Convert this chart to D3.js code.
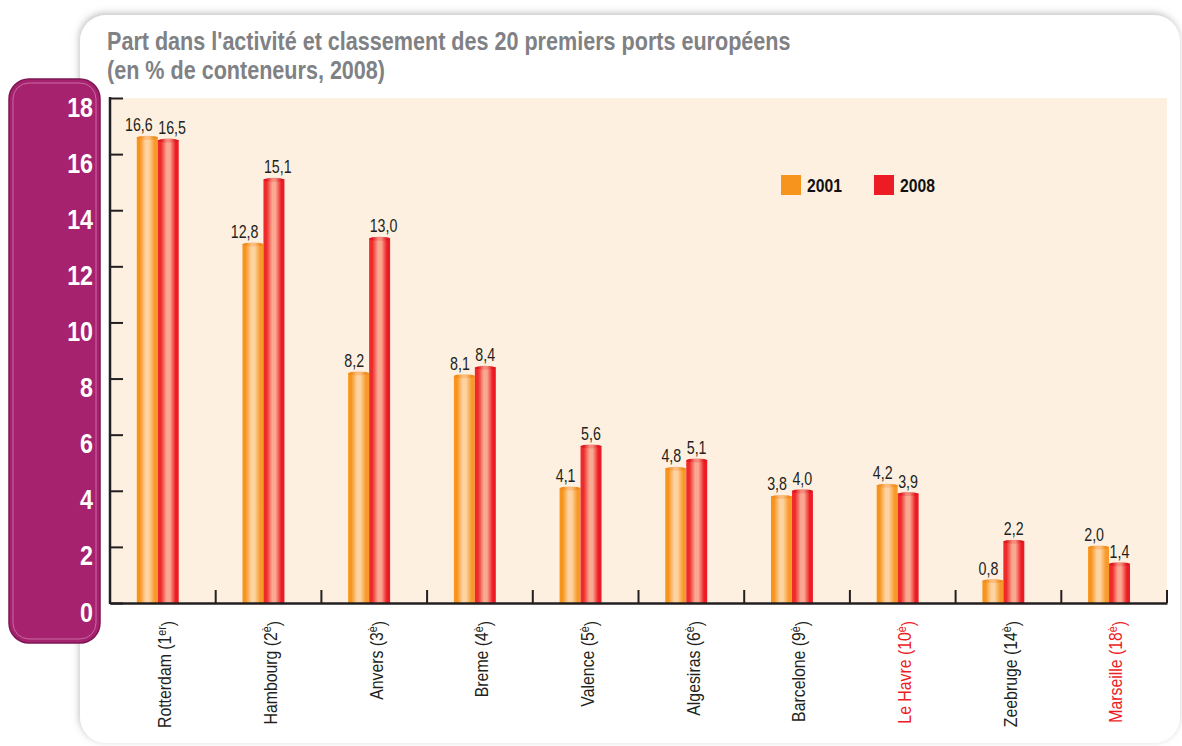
<!DOCTYPE html>
<html>
<head>
<meta charset="utf-8">
<script src="https://cdn.jsdelivr.net/npm/d3@7"></script>
<style>
  html, body { margin: 0; padding: 0; background: #ffffff; }
  svg { display: block; }
</style>
</head>
<body>
<svg id="chart" width="1182" height="746"></svg>
<script>
// ---------- data ----------
const categories = ["Rotterdam", "Hambourg", "Anvers", "Breme", "Valence", "Algesiras", "Barcelone", "Le Havre", "Zeebruge", "Marseille"];
const ranks = ["1", "2", "3", "4", "5", "6", "9", "10", "14", "18"];
const rankSuffix = ["er", "è", "è", "è", "è", "è", "è", "è", "è", "è"];
const highlighted = ["Le Havre", "Marseille"];
const values2001 = [16.6, 12.8, 8.2, 8.1, 4.1, 4.8, 3.8, 4.2, 0.8, 2.0];
const values2008 = [16.5, 15.1, 13.0, 8.4, 5.6, 5.1, 4.0, 3.9, 2.2, 1.4];
const seriesNames = ["2001", "2008"];
const yTicks = [0, 2, 4, 6, 8, 10, 12, 14, 16, 18];
const titleLines = ["Part dans l'activité et classement des 20 premiers ports européens", "(en % de conteneurs, 2008)"];

// ---------- layout ----------
const svg = d3.select("#chart");
const font = "'Liberation Sans', Arial, sans-serif";
const plot = { left: 110, right: 1167, top: 98, bottom: 603 };
const colors = { "2001": "#F7941D", "2008": "#ED1C24" };
const dark = "#231F20";

const defs = svg.append("defs");
const shadow = defs.append("filter").attr("id", "cardShadow").attr("x", "-5%").attr("y", "-5%").attr("width", "110%").attr("height", "110%");
shadow.append("feDropShadow").attr("dx", -1).attr("dy", -2).attr("stdDeviation", 3.5).attr("flood-color", "#8c8c8c").attr("flood-opacity", 0.55);

function cyl(id, edgeL, light, edgeR) {
  const g = defs.append("linearGradient").attr("id", id).attr("x1", 0).attr("x2", 1).attr("y1", 0).attr("y2", 0);
  g.append("stop").attr("offset", "0%").attr("stop-color", edgeL);
  g.append("stop").attr("offset", "15%").attr("stop-color", edgeL);
  g.append("stop").attr("offset", "42%").attr("stop-color", light);
  g.append("stop").attr("offset", "58%").attr("stop-color", light);
  g.append("stop").attr("offset", "85%").attr("stop-color", edgeR);
  g.append("stop").attr("offset", "100%").attr("stop-color", edgeR);
}
cyl("grad2001", "#F7941D", "#FDD3A2", "#F79A2A");
cyl("grad2008", "#EE2A2B", "#F9A892", "#ED1C24");
cyl("cap2001", "#F08A18", "#FBBE7E", "#F08A18");
cyl("cap2008", "#E0151D", "#F48A7A", "#E0151D");

// card
svg.append("rect").attr("x", 80).attr("y", 15).attr("width", 1100).attr("height", 728)
  .attr("rx", 26).attr("fill", "#ffffff").attr("filter", "url(#cardShadow)");

// title (condensed by horizontal scaling)
titleLines.forEach((t, i) => {
  svg.append("text").attr("transform", `translate(107,${i === 0 ? 50 : 79}) scale(0.83,1)`)
    .attr("font-family", font).attr("font-weight", "bold").attr("font-size", 26).attr("fill", "#808184")
    .text(t);
});

// plot background
svg.append("rect").attr("x", plot.left).attr("y", plot.top).attr("width", plot.right - plot.left)
  .attr("height", plot.bottom - plot.top).attr("fill", "#FDF0E1");

// purple y panel
svg.append("rect").attr("x", 9).attr("y", 79).attr("width", 91).attr("height", 564).attr("rx", 20)
  .attr("fill", "#A6226F").attr("stroke", "#7E1654").attr("stroke-width", 1.5);
svg.append("rect").attr("x", 13).attr("y", 83).attr("width", 83).attr("height", 556).attr("rx", 16)
  .attr("fill", "none").attr("stroke", "#C868A0").attr("stroke-width", 1);

// scales
const y = d3.scaleLinear().domain([0, 18]).range([plot.bottom, plot.top]);
const x = d3.scaleBand().domain(categories).range([plot.left, plot.right]).paddingInner(0).paddingOuter(0);
const xs = d3.scaleBand().domain(seriesNames).range([0, x.bandwidth()]).paddingInner(0).paddingOuter(1.52).align(0.42);

// y tick lines (inside)
svg.append("g").attr("transform", `translate(${plot.left},0)`)
  .call(d3.axisRight(y).tickValues(yTicks).tickSize(13).tickFormat(""))
  .call(g => g.select(".domain").remove())
  .call(g => g.selectAll("line").attr("stroke", dark).attr("stroke-width", 2));

// y tick labels (in purple panel)
svg.append("g").attr("transform", `translate(93,0)`)
  .call(d3.axisLeft(y).tickValues(yTicks).tickSize(0).tickPadding(0).tickFormat(d3.format("d")))
  .call(g => g.select(".domain").remove())
  .call(g => g.selectAll(".tick text")
    .attr("x", null).attr("dy", null)
    .attr("transform", "translate(0,18) scale(0.83,1)")
    .attr("fill", "#ffffff").attr("text-anchor", "end")
    .attr("font-family", font).attr("font-weight", "bold").attr("font-size", 28));

// bars
const fmt = v => d3.format(".1f")(v).replace(".", ",");
const barData = [];
categories.forEach((c, i) => {
  barData.push({ cat: c, s: "2001", v: values2001[i] });
  barData.push({ cat: c, s: "2008", v: values2008[i] });
});
const bars = svg.append("g");
bars.selectAll("rect.bar").data(barData).join("rect").attr("class", "bar")
  .attr("x", d => x(d.cat) + xs(d.s))
  .attr("y", d => y(d.v))
  .attr("width", xs.bandwidth())
  .attr("height", d => y(0) - y(d.v))
  .attr("fill", d => `url(#grad${d.s})`);
bars.selectAll("ellipse.cap").data(barData).join("ellipse").attr("class", "cap")
  .attr("cx", d => x(d.cat) + xs(d.s) + xs.bandwidth() / 2)
  .attr("cy", d => y(d.v) + 0.5)
  .attr("rx", xs.bandwidth() / 2)
  .attr("ry", 2)
  .attr("fill", d => `url(#cap${d.s})`);

// value labels
svg.append("g").selectAll("text").data(barData).join("text")
  .attr("transform", d => {
    const lx = d.s === "2001" ? x(d.cat) + xs(d.s) + xs.bandwidth() - 5 : x(d.cat) + xs(d.s) + 0.5;
    return `translate(${lx},${y(d.v) - 6}) scale(0.75,1)`;
  })
  .attr("text-anchor", d => d.s === "2001" ? "end" : "start")
  .attr("font-family", font).attr("font-size", 19).attr("fill", dark)
  .text(d => fmt(d.v));

// x axis
const xAxis = svg.append("g").attr("transform", `translate(0,${plot.bottom})`)
  .call(d3.axisBottom(x).tickSize(0).tickFormat(""));
xAxis.select(".domain").attr("stroke", dark).attr("stroke-width", 2.5);
// boundary ticks (upward)
svg.append("g").selectAll("line").data(categories).join("line")
  .attr("x1", d => x(d) + x.step()).attr("x2", d => x(d) + x.step())
  .attr("y1", plot.bottom).attr("y2", plot.bottom - 13)
  .attr("stroke", dark).attr("stroke-width", 2);
// y axis line
svg.append("line").attr("x1", plot.left).attr("x2", plot.left).attr("y1", plot.top - 1).attr("y2", plot.bottom + 1)
  .attr("stroke", dark).attr("stroke-width", 2.5);

// category labels
const catLabels = svg.append("g").selectAll("text").data(categories).join("text")
  .attr("transform", d => `translate(${x(d) + x.bandwidth() / 2 + 2},621) rotate(-90) scale(0.88,1)`)
  .attr("text-anchor", "end").attr("dy", "0.35em")
  .attr("font-family", font).attr("font-size", 18)
  .attr("fill", d => highlighted.includes(d) ? "#ED1C24" : dark);
catLabels.each(function (d, i) {
  const t = d3.select(this);
  t.append("tspan").text(`${d} (${ranks[i]}`);
  t.append("tspan").attr("dy", "-0.45em").attr("font-size", 12).text(rankSuffix[i]);
  t.append("tspan").attr("dy", "0.45em").text(")");
});

// legend
const legend = svg.append("g");
const legendX = [781, 874];
seriesNames.forEach((s, i) => {
  legend.append("rect").attr("x", legendX[i]).attr("y", 175).attr("width", 20).attr("height", 20).attr("fill", colors[s]);
  legend.append("text").attr("transform", `translate(${legendX[i] + 26},192) scale(0.85,1)`)
    .attr("font-family", font).attr("font-weight", "bold").attr("font-size", 18.5).attr("fill", "#111")
    .text(s);
});
</script>
</body>
</html>
